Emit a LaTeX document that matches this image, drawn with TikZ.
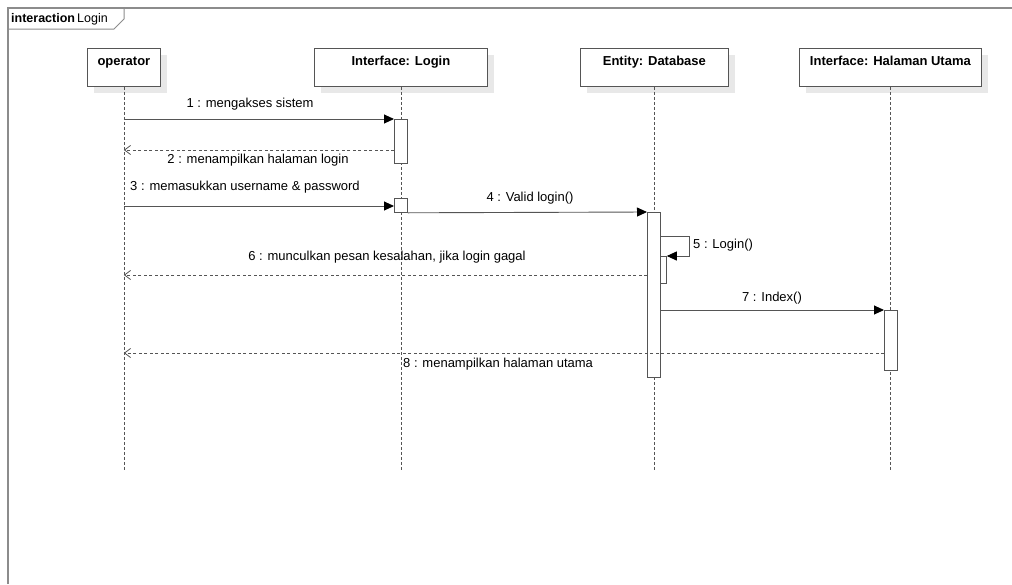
\documentclass[tikz,border=0pt]{standalone}
\usepackage{fontspec}
\setmainfont{Liberation Sans}
\usetikzlibrary{arrows.meta,calc,shadows}
\definecolor{linec}{HTML}{555555}
\definecolor{framec}{HTML}{8C8C8C}
\definecolor{shadc}{HTML}{E8E8E8}
\begin{document}
\begin{tikzpicture}[x=1pt,y=-1pt,
  txt/.style={font=\fontsize{13}{15}\selectfont, inner sep=0pt},
  head/.style={draw=linec, line width=0.8pt, fill=white, anchor=north west,
    minimum height=38pt, inner xsep=0pt, inner ysep=6pt, text height=11pt, text depth=15pt,
    font=\fontsize{13}{15}\selectfont\bfseries,
    drop shadow={shadow xshift=7pt, shadow yshift=-7pt, fill=shadc, opacity=1}},
  life/.style={draw=linec, line width=0.8pt, dash pattern=on 3pt off 2pt},
  act/.style={draw=linec, line width=0.8pt, fill=white, anchor=north west, inner sep=0pt},
  msg/.style={draw=linec, line width=0.9pt, -{Triangle[length=10pt,width=9pt,color=black]}},
  ret/.style={draw=linec, line width=0.8pt, dash pattern=on 3pt off 2.5pt, -{Straight Barb[length=6pt,width=9pt]}},
]
\useasboundingbox (0,0) rectangle (1012,584);
% frame
\draw[framec, line width=1.6pt] (8,584) -- (8,8) -- (1012,8);
\draw[framec, line width=1pt] (8,29) -- (114,29) -- (124,19) -- (124,8);
\node[anchor=west, inner sep=0pt] (ftitle) at (11,19) {\fontsize{12.5}{14}\selectfont\textbf{interaction}\,Login};

% heads
\node[head, minimum width=73pt] (hop) at (87,48) {operator};
\node[head, minimum width=173pt] (hlg) at (314,48) {Interface: Login};
\node[head, minimum width=148pt] (hdb) at (580,48) {Entity: Database};
\node[head, minimum width=182pt] (hhu) at (799,48) {Interface: Halaman Utama};

% lifeline ends
\coordinate (eop) at (hop.south |- 0,471);
\coordinate (elg) at (hlg.south |- 0,471);
\coordinate (edb) at (hdb.south |- 0,471);
\coordinate (ehu) at (hhu.south |- 0,471);
\draw[life] (hop.south) -- (eop);
\draw[life] (hlg.south) -- (elg);
\draw[life] (hdb.south) -- (edb);
\draw[life] (hhu.south) -- (ehu);

% activations
\node[act, minimum width=13pt, minimum height=44pt] (a1) at (394,119) {};
\node[act, minimum width=13pt, minimum height=14pt] (a2) at (394,198) {};
\node[act, minimum width=13pt, minimum height=165pt] (a3) at (647,212) {};
\node[act, minimum width=6pt, minimum height=27pt] (a4) at (660,256) {};
\node[act, minimum width=13pt, minimum height=60pt] (a5) at (884,310) {};

% operator lifeline points
\coordinate (o1) at (hop.south |- 0,119);
\coordinate (o2) at (hop.south |- 0,150);
\coordinate (o3) at (hop.south |- 0,206);
\coordinate (o6) at (hop.south |- 0,275);
\coordinate (o8) at (hop.south |- 0,353);
\coordinate (s5) at (689,236);

% messages
\draw[msg] (o1) -- (a1.north west);
\draw[ret] (a1.west |- o2) -- (o2);
\draw[msg] (o3) -- (a2.west |- o3);
\draw[msg] (a2.south east) -- (a3.north west);
\draw[msg] (a3.east |- s5) -- (s5) |- (a4.north east);
\draw[ret] (a3.west |- o6) -- (o6);
\draw[msg] (a3.east |- a5.north) -- (a5.north west);
\draw[ret] (a5.west |- o8) -- (o8);

% labels
\node[txt] (l1) at (250,104) {1 : mengakses sistem};
\node[txt] (l2) at (258,160) {2 : menampilkan halaman login};
\node[txt] (l3) at (245,187) {3 : memasukkan username \& password};
\node[txt] (l4) at (530,198) {4 : Valid login()};
\node[txt, anchor=west] (l5) at (693,245) {5 : Login()};
\node[txt] (l6) at (387,257) {6 : munculkan pesan kesalahan, jika login gagal};
\node[txt] (l7) at (772,298) {7 : Index()};
\node[txt, anchor=west] (l8) at (403,364) {8 : menampilkan halaman utama};
\end{tikzpicture}
\end{document}
